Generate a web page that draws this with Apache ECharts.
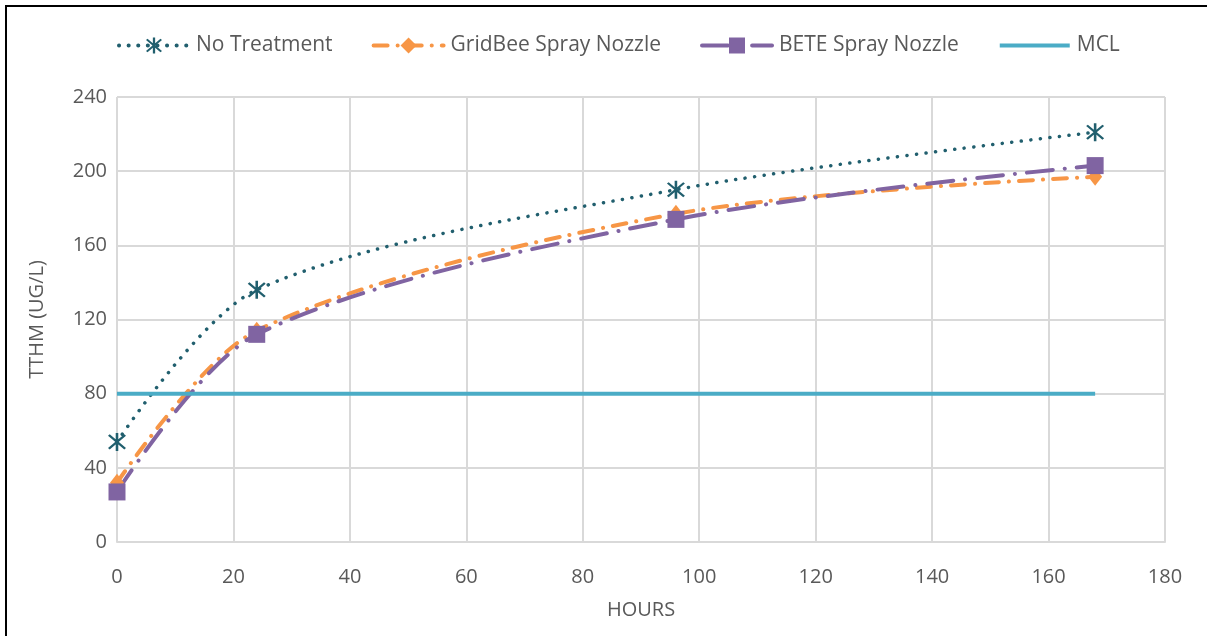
<!DOCTYPE html>
<html><head><meta charset="utf-8">
<script src="https://cdn.jsdelivr.net/npm/echarts@6/dist/echarts.min.js"></script>
<style>
html,body{margin:0;padding:0;background:#fff;overflow:hidden;}
#c{width:1207px;height:636px;position:relative;}
#frame{position:absolute;left:5px;top:5px;width:1200px;height:629px;border-top:2px solid #000;border-left:2px solid #000;pointer-events:none;}
</style></head>
<body>
<div id="c"></div><div id="frame"></div>
<script>
const hours = [0, 24, 96, 168];
const noTreatment = [54, 136, 190, 221];
const gridBee = [32, 114, 177, 197];
const bete = [27, 112, 174, 203];
const mclHours = [0, 168];
const mcl = [80, 80];
const seriesNames = ['No Treatment', 'GridBee Spray Nozzle', 'BETE Spray Nozzle', 'MCL'];

const pairs = (xs, ys) => xs.map((x, i) => [x, ys[i]]);
const star = 'path://M-0.6,-5L0.6,-5L0.6,5L-0.6,5Z M-4.2,-3.4L-3.4,-4.2L4.2,3.4L3.4,4.2Z M3.4,-4.2L4.2,-3.4L-3.4,4.2L-4.2,3.4Z';
const font = '"Open Sans", "Liberation Sans", Arial, sans-serif';
const chart = echarts.init(document.getElementById('c'));
chart.setOption({
  animation: false,
  textStyle: {fontFamily: font},
  legend: {
    top: 30, left: 112, itemWidth: 70, itemHeight: 20, itemGap: 39,
    textStyle: {fontSize: 21, color: '#595959', fontFamily: font, padding: [0, 0, 0, 2]},
    lineStyle: {width: 4},
    data: [
      {name: seriesNames[0]},
      {name: seriesNames[1]},
      {name: seriesNames[2]},
      {name: seriesNames[3], itemStyle: {opacity: 0}}
    ]
  },
  grid: {left: 117, right: 42, top: 97, bottom: 94},
  xAxis: {
    type: 'value', min: 0, max: 180, interval: 20,
    name: 'HOURS', nameLocation: 'middle', nameGap: 58,
    nameTextStyle: {fontSize: 20, color: '#595959', fontFamily: font},
    axisLine: {show: true, lineStyle: {color: '#d9d9d9', width: 2}},
    axisTick: {show: false},
    axisLabel: {fontSize: 20, color: '#595959', margin: 25, fontFamily: font},
    splitLine: {show: true, lineStyle: {color: '#d9d9d9', width: 2}}
  },
  yAxis: {
    type: 'value', min: 0, max: 240, interval: 40,
    name: 'TTHM (UG/L)', nameLocation: 'middle', nameGap: 70, nameRotate: 90,
    nameTextStyle: {fontSize: 20, color: '#595959', fontFamily: font},
    axisLine: {show: false}, axisTick: {show: false},
    axisLabel: {fontSize: 20, color: '#595959', margin: 10, fontFamily: font},
    splitLine: {show: true, lineStyle: {color: '#d9d9d9', width: 2}}
  },
  series: [
    {
      name: seriesNames[0], type: 'line', smooth: 0.3, data: pairs(hours, noTreatment),
      symbol: star, symbolSize: 18,
      itemStyle: {color: '#215f6e'},
      lineStyle: {color: '#215f6e', width: 3.5, type: [0.1, 9.5], cap: 'round'}
    },
    {
      name: seriesNames[1], type: 'line', smooth: 0.3, data: pairs(hours, gridBee),
      symbol: 'diamond', symbolSize: [14, 18],
      itemStyle: {color: '#F79646'},
      lineStyle: {color: '#F79646', width: 4, type: [14, 10, 0.1, 10], cap: 'round'}
    },
    {
      name: seriesNames[2], type: 'line', smooth: 0.3, data: pairs(hours, bete),
      symbol: 'rect', symbolSize: 17,
      itemStyle: {color: '#8064A2'},
      lineStyle: {color: '#8064A2', width: 4, type: [26, 12, 0.1, 12], cap: 'round'}
    },
    {
      name: seriesNames[3], type: 'line', data: pairs(mclHours, mcl),
      symbol: 'none', itemStyle: {color: '#4BACC6'},
      lineStyle: {color: '#4BACC6', width: 4}
    }
  ]
});
</script>
</body></html>
